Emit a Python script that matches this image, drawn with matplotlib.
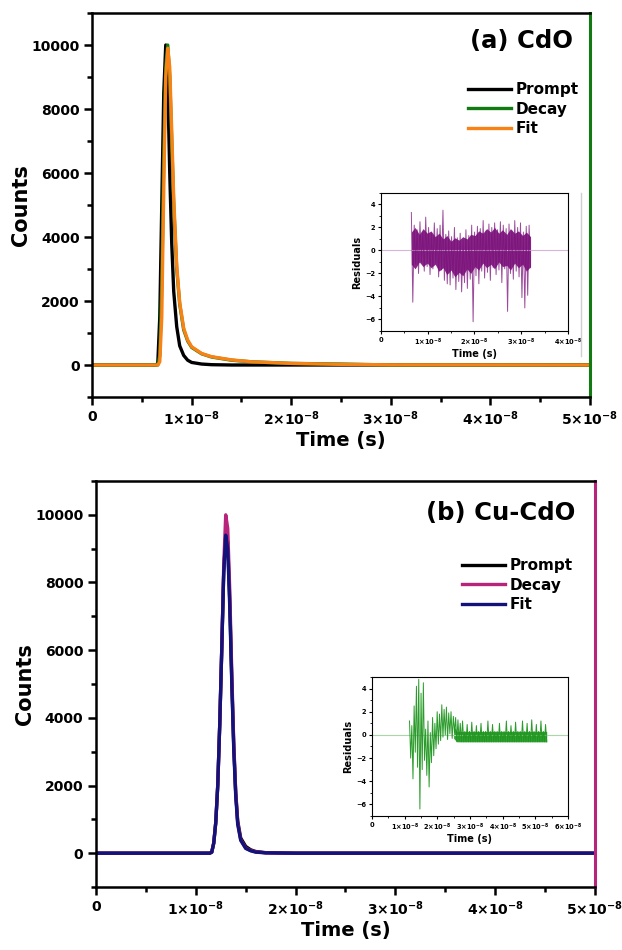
import numpy as np
import matplotlib.pyplot as plt
from matplotlib.lines import Line2D
from matplotlib.ticker import MultipleLocator

# Dados (tempo em unidades de 1e-8 s)
t_a = [0, 0.64, 0.66, 0.68, 0.70, 0.72, 0.74, 0.76, 0.78, 0.80, 0.82, 0.85, 0.88,
       0.92, 0.96, 1.0, 1.1, 1.2, 1.4, 1.6, 2.0, 2.5, 3.0, 5.0]
prompt_a = [0, 0, 50, 1500, 5000, 8500, 10000, 8800, 6000, 3800, 2300, 1200, 600,
            300, 150, 80, 30, 10, 0, 0, 0, 0, 0, 0]
decay_a = [0, 0, 0, 300, 2500, 6500, 9300, 10000, 9000, 7000, 5000, 3000, 1900,
           1100, 750, 550, 350, 250, 150, 100, 50, 30, 0, 0]
fit_a = [0, 0, 0, 100, 1500, 5500, 9000, 9900, 9300, 7300, 5200, 3100, 1950,
         1150, 780, 570, 360, 260, 160, 100, 50, 20, 5, 0]

t_b = [0, 1.14, 1.16, 1.18, 1.20, 1.22, 1.24, 1.26, 1.28, 1.30, 1.32, 1.34, 1.36,
       1.38, 1.40, 1.42, 1.45, 1.50, 1.55, 1.6, 1.7, 2.0, 5.0]
prompt_b = [0, 0, 30, 300, 900, 2000, 3800, 6000, 8300, 9400, 9200, 7500, 5200,
            3200, 1800, 950, 450, 200, 100, 50, 15, 0, 0]
decay_b = [0, 0, 30, 300, 900, 2000, 3800, 6000, 8500, 10000, 9600, 7800, 5400,
           3300, 1800, 900, 400, 150, 80, 40, 10, 0, 0]
fit_b = [0, 0, 30, 300, 900, 2000, 3800, 6000, 8300, 9400, 9000, 7300, 5100,
         3100, 1700, 850, 380, 140, 70, 30, 10, 0, 0]

# Resíduos (inset), intervalo de tempo em 1e-8 s
res_a_range = (0.65, 3.2)
res_a = [3.3, -4.5, 2.2, -1.2, 1.8, -2.0, 2.5, -1.0, 1.6, -1.8, 2.9, -1.4, 2.0, -2.1, 1.5, -1.6, 2.4, -1.1, 1.9, -2.3,
         2.2, -1.7, 3.5, -2.6, 1.4, -2.9, 1.7, -3.0, 1.2, -2.4, 2.0, -3.4, 1.1, -2.7, 1.5, -3.6, 0.9, -2.8, 1.8, -3.3,
         1.3, -2.5, 2.2, -6.2, 1.6, -2.2, 2.1, -2.9, 1.9, -1.8, 2.6, -2.4, 1.7, -1.9, 2.3, -2.6, 2.0, -1.5, 2.4, -2.1,
         1.8, -1.7, 2.5, -2.8, 2.2, -1.6, 1.9, -5.3, 2.3, -2.0, 1.7, -2.5, 2.6, -1.8, 2.0, -2.3, 2.4, -4.1, 1.6, -5.0,
         2.1, -3.9, 2.2, -1.5]
# faixa escura (núcleo) dos resíduos
core_a_t = [0.65, 0.73, 0.82, 0.90, 0.99, 1.07, 1.16, 1.24, 1.33, 1.41, 1.50, 1.58, 1.67, 1.75, 1.84, 1.92,
            2.01, 2.09, 2.18, 2.26, 2.35, 2.43, 2.52, 2.60, 2.69, 2.77, 2.86, 2.94, 3.03, 3.11, 3.20]
core_a_lo = [-1.2, -1.6, -1.0, -1.4, -1.1, -1.5, -1.2, -1.8, -1.5, -2.1, -1.7, -2.3, -1.9, -2.2, -1.6, -2.0,
             -1.4, -1.7, -1.1, -1.5, -1.2, -1.6, -1.0, -1.4, -1.3, -1.7, -1.1, -1.5, -1.2, -1.8, -1.4]
core_a_hi = [1.6, 2.0, 1.4, 1.9, 1.5, 1.7, 1.2, 1.5, 1.0, 1.3, 0.8, 1.1, 0.9, 1.2, 1.0, 1.4,
             1.3, 1.7, 1.5, 1.9, 1.6, 2.0, 1.5, 1.8, 1.4, 1.9, 1.5, 1.7, 1.3, 1.6, 1.2]

res_b_range = (1.15, 5.35)
res_b = [1.2, -2.0, 0.8, -3.8, 2.5, -1.5, 4.2, -2.8, 4.8, -6.4, 3.6, -3.0, 4.5, -2.2, 0.5, -3.5, 1.2, -4.5, 0.2, -2.4,
         1.5, -1.8, 1.0, -1.2, 2.0, -0.8, 1.8, -0.5, 2.6, -0.2, 2.2, 0.0, 2.4, -0.4, 1.9, 0.1, 2.0, -0.3, 1.6, 0.2,
         1.5, -0.6, 1.3, -0.5, 1.0, -0.6, 1.2, -0.6, 0.3, -0.6, 0.9, -0.6, 0.3, -0.6, 1.1, -0.6, 0.3, -0.6, 0.8, -0.6,
         0.3, -0.6, 1.0, -0.6, 0.3, -0.6, 0.3, -0.6, 1.2, -0.6, 0.3, -0.6, 0.9, -0.6, 0.3, -0.6, 0.3, -0.6, 1.0, -0.6,
         0.3, -0.6, 0.3, -0.6, 1.2, -0.6, 0.3, -0.6, 0.8, -0.6, 0.3, -0.6, 1.1, -0.6, 0.3, -0.6, 0.3, -0.6, 1.2, -0.6,
         0.3, -0.6, 1.0, -0.6, 0.3, -0.6, 1.3, -0.6, 0.3, -0.6, 0.9, -0.6, 0.3, -0.6, 1.2, -0.6, 0.3, -0.6, 0.9, -0.6]
core_b_t = [2.5, 2.6, 5.35]
core_b_lo = [-0.3, -0.6, -0.6]
core_b_hi = [0.8, 0.3, 0.3]

main_xticks = [0, 1, 2, 3, 4, 5]
main_xlabels = ['0'] + [r'$\mathbf{%d{\times}10^{-8}}$' % k for k in range(1, 6)]
main_yticks = [0, 2000, 4000, 6000, 8000, 10000]
inset_a_xticks = [0, 1, 2, 3, 4]
inset_b_xticks = [0, 1, 2, 3, 4, 5, 6]
inset_yticks = [-6, -4, -2, 0, 2, 4]

plt.rcParams['font.family'] = 'DejaVu Sans'
plt.rcParams['font.weight'] = 'bold'
plt.rcParams['axes.labelweight'] = 'bold'

fig = plt.figure(figsize=(6.22, 9.5), dpi=100)


def painel(rect, t, prompt, decay, fit, c_decay, c_fit, titulo, leg_pos):
    ax = fig.add_axes(rect)
    t = np.array(t) * 1e-8
    ax.plot(t, prompt, color='black', lw=2.4, label='Prompt')
    ax.plot(t, decay, color=c_decay, lw=2.4, label='Decay')
    ax.plot(t, fit, color=c_fit, lw=2.4, label='Fit')
    ax.set_xlim(0, 5e-8)
    ax.set_ylim(-1000, 11000)
    ax.set_xticks(np.array(main_xticks) * 1e-8)
    ax.set_xticklabels(main_xlabels)
    ax.xaxis.set_minor_locator(MultipleLocator(0.5e-8))
    ax.set_yticks(main_yticks)
    ax.yaxis.set_minor_locator(MultipleLocator(1000))
    ax.tick_params(which='major', direction='out', length=6, width=1.8, labelsize=10, pad=3)
    ax.tick_params(which='minor', direction='out', length=3.5, width=1.8)
    for s in ['left', 'bottom', 'top']:
        ax.spines[s].set_linewidth(1.8)
    ax.spines['right'].set_linewidth(2.2)
    ax.spines['right'].set_color(c_decay)
    ax.set_xlabel('Time (s)', fontsize=14, labelpad=2)
    ax.set_ylabel('Counts', fontsize=15, labelpad=0)
    ax.text(titulo[1], titulo[2], titulo[0], transform=ax.transAxes, ha='right',
            va='center', fontsize=17.5, fontweight='bold')
    ax.legend(loc='upper left', bbox_to_anchor=leg_pos, frameon=False, fontsize=11,
              handlelength=2.8, handletextpad=0.3, labelspacing=0.3, borderpad=0,
              borderaxespad=0)
    return ax


def inset(rect, rng, res, core, cor, cor_base, xmax, xticks, alpha):
    ax = fig.add_axes(rect)
    t = np.linspace(rng[0], rng[1], len(res)) * 1e-8
    ax.axhline(0, color=cor_base, lw=0.8)
    ax.fill_between(np.array(core[0]) * 1e-8, core[1], core[2], color=cor, lw=0, alpha=0.9)
    ax.plot(t, res, color=cor, lw=0.7, alpha=alpha)
    ax.set_xlim(0, xmax * 1e-8)
    ax.set_ylim(-7, 5)
    ax.set_xticks(np.array(xticks) * 1e-8)
    ax.set_xticklabels(['0'] + [r'$\mathbf{%d{\times}10^{-8}}$' % k for k in xticks[1:]])
    ax.xaxis.set_minor_locator(MultipleLocator(0.5e-8))
    ax.set_yticks(inset_yticks)
    ax.yaxis.set_minor_locator(MultipleLocator(1))
    ax.tick_params(which='major', direction='out', length=2.5, width=0.8, labelsize=4.8, pad=1.5)
    ax.tick_params(which='minor', direction='out', length=1.5, width=0.6)
    for s in ax.spines.values():
        s.set_linewidth(0.8)
    ax.set_xlabel('Time (s)', fontsize=7, labelpad=1)
    ax.set_ylabel('Residuals', fontsize=7, labelpad=2)
    return ax


# (a) CdO
painel([0.148, 0.5821, 0.8006, 0.4042], t_a, prompt_a, decay_a, fit_a,
       '#127a12', '#f98214', ('(a) CdO', 0.966, 0.927), (0.755, 0.82))
inset([0.6125, 0.6516, 0.3006, 0.1453], res_a_range, res_a, (core_a_t, core_a_lo, core_a_hi),
      '#7a0f7a', '#d8b4d8', 4, inset_a_xticks, 0.75)
fig.add_artist(Line2D([581 / 622, 581 / 622], [1 - 193 / 950, 1 - 356 / 950],
                      color='#cfcfcf', lw=1.0))

# (b) Cu-CdO
painel([0.1543, 0.0663, 0.8023, 0.4274], t_b, prompt_b, decay_b, fit_b,
       '#b8237c', '#12127a', ('(b) Cu-CdO', 0.96, 0.92), (0.733, 0.81))
inset([0.598, 0.1411, 0.3151, 0.1463], res_b_range, res_b, (core_b_t, core_b_lo, core_b_hi),
      '#1f961f', '#a8d8a8', 6, inset_b_xticks, 0.95)

fig.savefig('out.png', dpi=100)
